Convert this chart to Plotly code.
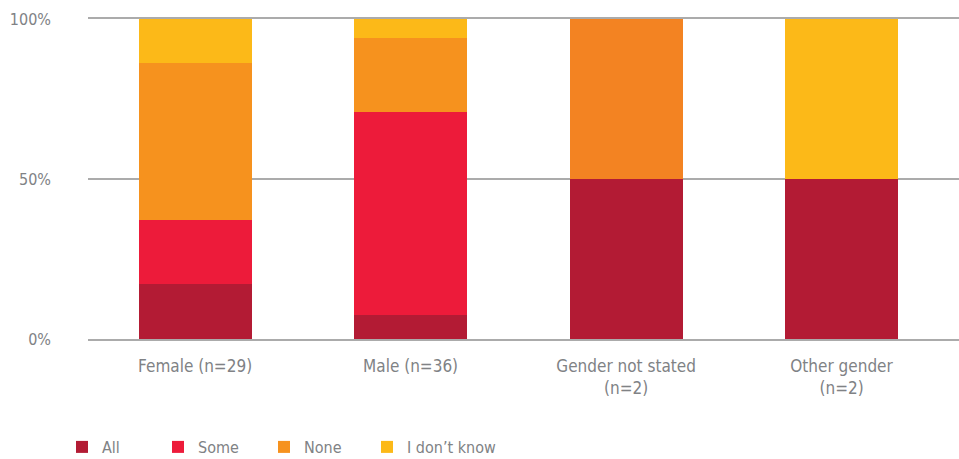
import plotly.graph_objects as go

categories = ["Female (n=29)", "Male (n=36)", "Gender not stated<br>(n=2)", "Other gender<br>(n=2)"]
series_names = ["All", "Some", "None", "I don\u2019t know"]
all_vals = [17.2, 7.5, 50, 50]
some_vals = [20.0, 63.4, 0, 0]
none_vals = [49.1, 23.2, 50, 0]
idk_vals = [13.7, 5.9, 0, 50]
colors = ["#B31B34", "#ED1B3A", ["#F6921E", "#F6921E", "#F38322", "#F38322"], "#FCB918"]
y_ticks = [0, 50, 100]
y_ticklabels = ["0%", "50%", "100%"]

FONT = "Liberation Sans Narrow, DejaVu Sans Condensed, Roboto, sans-serif"
GREY = "#808285"
GRID = "#ABABAB"

legend_ids = ["legend", "legend2", "legend3", "legend4"]
legend_left_px = [62, 158, 264, 367]

fig = go.Figure()
for name, vals, col, lg in zip(series_names, [all_vals, some_vals, none_vals, idk_vals], colors, legend_ids):
    fig.add_trace(go.Bar(x=categories, y=vals, name=name, legend=lg, showlegend=True,
                         marker=dict(color=col, line=dict(width=0)), hoverinfo="x+y+name"))

legend_common = dict(orientation="h", xref="container", yref="container", y=12 / 459,
                     xanchor="left", yanchor="middle", visible=True,
                     font=dict(family=FONT, size=16, color=GREY), bgcolor="rgba(0,0,0,0)")
layout_legends = {}
for lg, px in zip(legend_ids, legend_left_px):
    layout_legends[lg] = dict(legend_common, x=px / 959)

fig.update_layout(
    barmode="stack",
    bargap=0.476,
    showlegend=True,
    width=959, height=459,
    margin=dict(l=88, r=0, t=19, b=120),
    plot_bgcolor="white", paper_bgcolor="white",
    font=dict(family=FONT, size=16, color=GREY),
    xaxis=dict(range=[-0.497, 3.545], showgrid=False, ticks="",
               showline=True, mirror=True, linecolor=GRID, linewidth=1.5,
               tickfont=dict(family=FONT, size=17, color=GREY), ticklabelstandoff=11),
    yaxis=dict(range=[0, 100], tickvals=y_ticks, ticktext=y_ticklabels, showgrid=True,
               gridcolor=GRID, gridwidth=1.5, zeroline=False, showline=False, ticks="",
               tickfont=dict(family=FONT, size=16, color=GREY), ticklabelstandoff=36),
    **layout_legends,
)

fig.write_html("out.html")
